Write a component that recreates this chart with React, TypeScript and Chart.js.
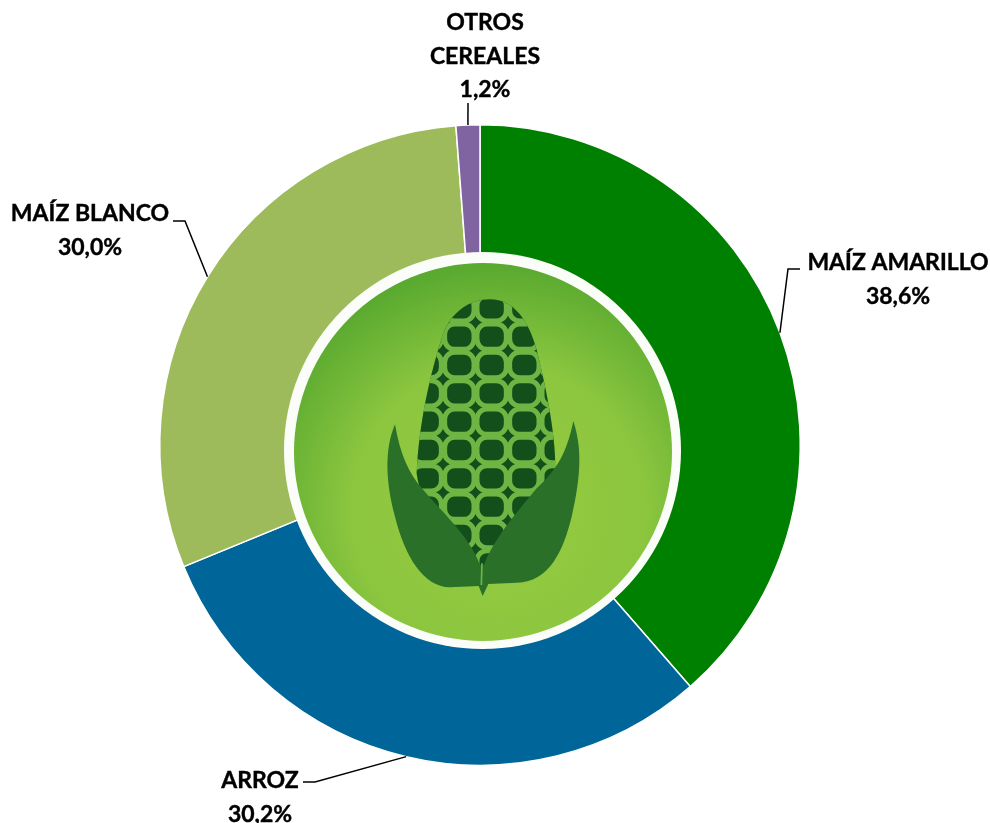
import React, { useEffect, useRef } from "react";
import { Chart, registerables } from "chart.js";

Chart.register(...registerables);

const categories = ["MAÍZ AMARILLO", "ARROZ", "MAÍZ BLANCO", "OTROS CEREALES"];
const shares = [38.6, 30.2, 30.0, 1.2];
const shareLabels = ["38,6%", "30,2%", "30,0%", "1,2%"];
const sliceColors = ["#008000", "#006699", "#9dbb5b", "#8064a2"];
const labelLines = [["MAÍZ AMARILLO", "38,6%"], ["ARROZ", "30,2%"], ["MAÍZ BLANCO", "30,0%"], ["OTROS", "CEREALES", "1,2%"]];

// Offsets from the chart centre: text centre x, first text line y, leader elbow, leader end
const labelLayout = [
  { tx: 418, ty: -182, ex: 308, ey: -176, hx: 320, hy: -176 },
  { tx: -220, ty: 336, ex: -165, ey: 337, hx: -177, hy: 337 },
  { tx: -390, ty: -231, ex: -295, ey: -224, hx: -307, hy: -224 },
  { tx: 5, ty: -422, ex: -12, ey: -342, hx: -12, hy: -342 },
];

const LINE_H = 33.5;

function earPath(ctx: CanvasRenderingContext2D) {
  ctx.beginPath();
  ctx.moveTo(630, 178);
  ctx.bezierCurveTo(700, 178, 745, 240, 770, 330);
  ctx.bezierCurveTo(800, 450, 830, 600, 825, 700);
  ctx.bezierCurveTo(800, 830, 680, 950, 605, 1010);
  ctx.bezierCurveTo(530, 950, 420, 800, 410, 700);
  ctx.bezierCurveTo(415, 560, 450, 400, 490, 280);
  ctx.bezierCurveTo(515, 215, 570, 178, 630, 178);
  ctx.closePath();
}

function drawCorn(ctx: CanvasRenderingContext2D, cx: number, cy: number) {
  ctx.save();
  ctx.translate(cx - 200, cy - 205);
  ctx.scale(1 / 3, 1 / 3);

  ctx.save();
  earPath(ctx);
  ctx.fillStyle = "#6fb544";
  ctx.fill();
  ctx.clip();
  ctx.fillStyle = "#124f1a";
  ctx.fillRect(380, 150, 480, 880);
  ctx.strokeStyle = "#6fb544";
  ctx.lineWidth = 15;
  const colXs = [343, 440, 538, 635, 733, 830];
  const rowYs = [205, 290, 375, 460, 545, 630, 715, 800, 885, 970];
  for (const x of colXs) {
    for (const y of rowYs) {
      ctx.beginPath();
      ctx.roundRect(x - 44, y - 38, 88, 76, 30);
      ctx.stroke();
    }
  }
  ctx.restore();

  ctx.fillStyle = "#2a7029";
  ctx.beginPath();
  ctx.moveTo(345, 553);
  ctx.bezierCurveTo(360, 640, 385, 700, 430, 750);
  ctx.bezierCurveTo(480, 810, 570, 890, 600, 975);
  ctx.lineTo(612, 975);
  ctx.bezierCurveTo(640, 900, 700, 830, 770, 745);
  ctx.bezierCurveTo(830, 690, 860, 640, 880, 543);
  ctx.bezierCurveTo(905, 620, 905, 700, 875, 830);
  ctx.bezierCurveTo(850, 930, 810, 1025, 710, 1028);
  ctx.lineTo(625, 1032);
  ctx.lineTo(608, 1068);
  ctx.lineTo(596, 1038);
  ctx.lineTo(510, 1042);
  ctx.bezierCurveTo(430, 1040, 375, 950, 345, 830);
  ctx.bezierCurveTo(318, 730, 312, 630, 345, 553);
  ctx.closePath();
  ctx.fill();

  ctx.strokeStyle = "#6fb544";
  ctx.lineWidth = 5;
  ctx.beginPath();
  ctx.moveTo(606, 970);
  ctx.lineTo(604, 1035);
  ctx.stroke();
  ctx.restore();
}

const overlayPlugin = {
  id: "overlay",
  afterDatasetsDraw(chart: any) {
    const ctx: CanvasRenderingContext2D = chart.ctx;
    const arcs = chart.getDatasetMeta(0).data;
    const cx = arcs[0].x;
    const cy = arcs[0].y;
    const R = arcs[0].outerRadius;
    const mx = cx + 3;
    const my = cy + 6;

    ctx.save();
    ctx.fillStyle = "#fbfdf8";
    ctx.beginPath();
    ctx.arc(mx - 0.5, my - 0.5, 198.5, 0, Math.PI * 2);
    ctx.fill();
    const g = ctx.createRadialGradient(mx + 15, my + 60, 0, mx + 15, my + 60, 245);
    g.addColorStop(0, "#96cb41");
    g.addColorStop(0.6, "#8cc63f");
    g.addColorStop(1, "#5aaa30");
    ctx.fillStyle = g;
    ctx.beginPath();
    ctx.arc(mx, my + 1, 189, 0, Math.PI * 2);
    ctx.fill();
    drawCorn(ctx, cx, cy);

    ctx.strokeStyle = "#000";
    ctx.lineWidth = 1.5;
    arcs.forEach((arc: any, i: number) => {
      const mid = (arc.startAngle + arc.endAngle) / 2;
      const l = labelLayout[i];
      ctx.beginPath();
      ctx.moveTo(cx + Math.cos(mid) * R, cy + Math.sin(mid) * R);
      ctx.lineTo(cx + l.ex, cy + l.ey);
      ctx.lineTo(cx + l.hx, cy + l.hy);
      ctx.stroke();
    });

    ctx.fillStyle = "#000";
    ctx.font = "700 23px Lato";
    ctx.textAlign = "center";
    ctx.textBaseline = "middle";
    ctx.lineWidth = 0.4;
    labelLines.forEach((lines, i) => {
      const l = labelLayout[i];
      lines.forEach((t, j) => {
        ctx.fillText(t, cx + l.tx, cy + l.ty + j * LINE_H);
        ctx.strokeText(t, cx + l.tx, cy + l.ty + j * LINE_H);
      });
    });
    ctx.restore();
  },
};

export default function App() {
  const ref = useRef<HTMLCanvasElement>(null);
  useEffect(() => {
    document.body.style.margin = "0";
    document.body.style.background = "#fff";
    const chart = new Chart(ref.current!, {
      type: "doughnut",
      data: {
        labels: categories,
        datasets: [
          {
            data: shares,
            backgroundColor: sliceColors,
            borderColor: "#ffffff",
            borderWidth: 1.5,
          },
        ],
      },
      options: {
        responsive: false,
        animation: false,
        cutout: "56%",
        rotation: 0,
        layout: { padding: { left: 159, right: 189, top: 124, bottom: 57 } },
        plugins: {
          legend: { display: false },
          title: { display: false },
          tooltip: {
            enabled: true,
            callbacks: { label: (c: any) => shareLabels[c.dataIndex] },
          },
        },
      },
      plugins: [overlayPlugin],
    });
    return () => chart.destroy();
  }, []);
  return <canvas ref={ref} width={990} height={823} style={{ display: "block" }} />;
}
